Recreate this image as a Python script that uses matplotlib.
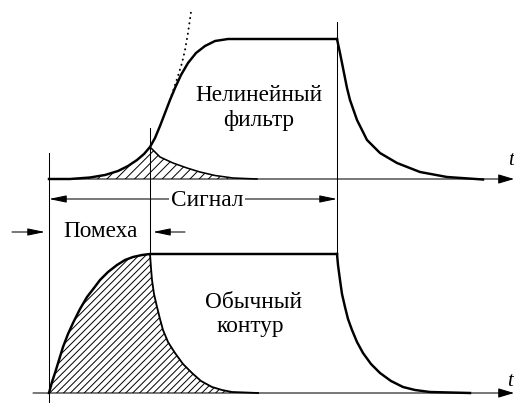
import matplotlib
matplotlib.use("Agg")
import matplotlib.pyplot as plt

# Diagram drawn in image-pixel coordinates (x right, y down).
AX_TOP_Y = 179          # upper time axis
AX_BOT_Y = 393          # lower time axis
T_START = 49            # start of interference
T_STOP_NOISE = 150      # end of interference
T_STOP_SIG = 337        # end of signal

# upper panel: nonlinear filter response
nl_x = [49, 70, 90, 105, 118, 128, 137, 144, 150, 155, 160, 165, 170, 175, 181, 188,
        196, 205, 215, 228, 240, 337]
nl_y = [179, 179, 177.5, 175, 171, 166, 160, 154, 147, 138, 126, 113, 100, 88, 75, 63,
        53, 46, 41, 39, 39, 39]
nl_fall_x = [337, 340, 343, 347, 350, 357, 367, 380, 397, 420, 447, 483]
nl_fall_y = [39, 53, 68, 88, 100, 120, 140, 153, 163, 172, 177, 179.5]
nl_dot_x = [170, 174, 178, 182, 185, 188, 191]
nl_dot_y = [100, 88, 76, 63, 50, 33, 12]
nl_noise_x = [73, 90, 105, 118, 128, 137, 144, 150, 160, 173, 187, 200, 215, 233, 257]
nl_noise_y = [179, 177.5, 175, 171, 166, 160, 154, 147, 157, 163, 168, 172, 175.5, 178, 179]

# lower panel: ordinary resonant circuit
lc_x = [49, 52, 55, 59, 63, 68, 73, 80, 87, 94, 100, 108, 117, 125, 133, 142, 150, 337]
lc_y = [393, 382, 373, 360, 347, 334, 323, 309, 297, 288, 280, 272, 265, 260, 257, 255, 254, 254]
lc_fall_x = [337, 338, 340, 342, 345, 348, 352, 357, 363, 371, 380, 391, 403, 415, 430, 470]
lc_fall_y = [254, 265, 280, 294, 307, 319, 330, 342, 353, 364, 373, 381, 387, 390, 392, 393]
lc_noise_x = [150, 151, 152, 154, 157, 160, 163, 168, 175, 183, 192, 201, 212, 222, 232, 258]
lc_noise_y = [254, 268, 280, 294, 307, 319, 330, 342, 353, 364, 373, 381, 387, 390, 392, 393]

DPI = 83                # chosen so the hatch spacing matches the reference
S = 88 / DPI            # sizes below were tuned at 88 dpi
plt.rcParams["hatch.linewidth"] = 0.8 * S
plt.rcParams["font.family"] = ["Liberation Serif", "DejaVu Serif"]

fig = plt.figure(figsize=(514 / DPI, 403 / DPI), dpi=DPI)
ax = fig.add_axes([0, 0, 1, 1])
ax.set_xlim(0, 514)
ax.set_ylim(403, 0)
ax.axis("off")

K = "black"
THICK = 2.0 * S
THIN = 0.85 * S
FS = 19 * S

# hatched interference areas
ax.fill(nl_noise_x + [T_START + 24], nl_noise_y + [AX_TOP_Y], facecolor="none",
        edgecolor=K, hatch="///", lw=0)
ax.fill(lc_x[:17] + lc_noise_x[1:], lc_y[:17] + lc_noise_y[1:], facecolor="none",
        edgecolor=K, hatch="////", lw=0)

# curves
ax.plot(nl_x, nl_y, color=K, lw=THICK, solid_joinstyle="round")
ax.plot(nl_fall_x, nl_fall_y, color=K, lw=THICK, solid_joinstyle="round")
ax.plot(nl_noise_x[7:], nl_noise_y[7:], color=K, lw=1.3 * S, solid_joinstyle="round")
ax.plot(nl_dot_x, nl_dot_y, color=K, lw=1.6 * S, ls=(0, (0.1, 2.6)), dash_capstyle="round")
ax.plot(lc_x, lc_y, color=K, lw=THICK, solid_joinstyle="round")
ax.plot(lc_fall_x, lc_fall_y, color=K, lw=THICK, solid_joinstyle="round")
ax.plot(lc_noise_x, lc_noise_y, color=K, lw=1.5 * S, solid_joinstyle="round")

# vertical markers
ax.plot([T_START, T_START], [153, 402], color=K, lw=THIN)
ax.plot([T_STOP_NOISE, T_STOP_NOISE], [128, 254], color=K, lw=THIN)
ax.plot([T_STOP_SIG, T_STOP_SIG], [22, 254], color=K, lw=THIN)

# time axes
axis_arrow = dict(arrowstyle="-|>,head_length=1.1,head_width=0.33", color=K, lw=THIN,
                  shrinkA=0, shrinkB=0, mutation_scale=10 * S)
ax.annotate("", xy=(514, AX_TOP_Y), xytext=(T_START, AX_TOP_Y), arrowprops=axis_arrow)
ax.annotate("", xy=(514, AX_BOT_Y), xytext=(33, AX_BOT_Y), arrowprops=axis_arrow)
ax.text(511, 165, "t", fontsize=17 * S, style="italic", ha="center", va="baseline")
ax.text(510, 386, "t", fontsize=17 * S, style="italic", ha="center", va="baseline")

# signal / interference spans
span_arrow = dict(arrowstyle="<|-|>,head_length=1.2,head_width=0.25", color=K, lw=THIN,
                  shrinkA=0, shrinkB=0, mutation_scale=10 * S)
ax.annotate("", xy=(T_STOP_SIG, 199), xytext=(T_START, 199), arrowprops=span_arrow)
ax.text(207, 206, "Сигнал", fontsize=FS, ha="center", va="baseline",
        bbox=dict(facecolor="white", edgecolor="none", pad=1.5))
one_arrow = dict(arrowstyle="-|>,head_length=1.2,head_width=0.25", color=K, lw=THIN,
                 shrinkA=0, shrinkB=0, mutation_scale=10 * S)
ax.annotate("", xy=(45, 232), xytext=(12, 232), arrowprops=one_arrow)
ax.annotate("", xy=(153, 232), xytext=(185, 232), arrowprops=one_arrow)
ax.text(101, 237, "Помеха", fontsize=FS, ha="center", va="baseline")

ax.text(259, 101, "Нелинейный", fontsize=FS, ha="center", va="baseline")
ax.text(259, 126, "фильтр", fontsize=FS, ha="center", va="baseline")
ax.text(253, 307.5, "Обычный", fontsize=FS, ha="center", va="baseline")
ax.text(250, 332, "контур", fontsize=FS, ha="center", va="baseline")

fig.savefig("out.png", dpi=DPI)
